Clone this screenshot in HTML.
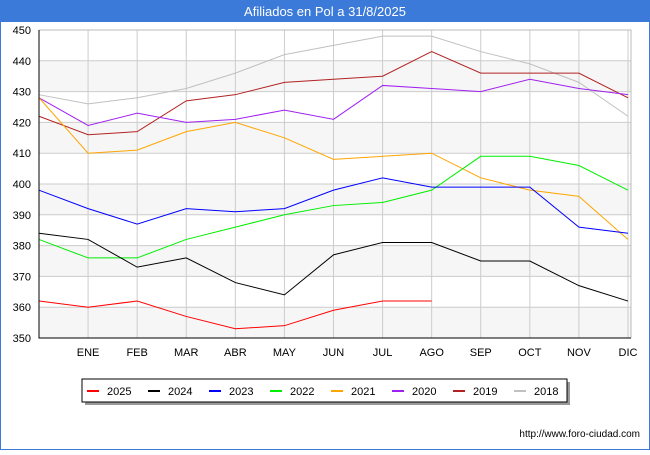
<!DOCTYPE html>
<html><head><meta charset="utf-8"><style>
body{margin:0;width:650px;height:450px;background:#fff;font-family:"Liberation Sans",sans-serif;overflow:hidden}
</style></head><body>
<svg width="650" height="450" xmlns="http://www.w3.org/2000/svg">
<rect x="0.5" y="0.5" width="649" height="449" fill="#fff" stroke="#3b7ad9"/>
<rect x="0" y="0" width="650" height="22" fill="#3b7ad9"/>
<text x="325" y="16" text-anchor="middle" fill="#fff" font-size="13">Afiliados en Pol a 31/8/2025</text>
<g id="bands"></g><g id="grid"></g><g id="series"></g><g id="axes"></g>
<rect x="85" y="382" width="485" height="23" fill="#999"/>
<rect x="82" y="379" width="485" height="23" fill="#fff" stroke="#000" stroke-width="1"/>
<g id="legend"></g>
<text x="640" y="437" text-anchor="end" font-size="10" fill="#000">http://www.foro-ciudad.com</text>
</svg>
<script>
const months=["","ENE","FEB","MAR","ABR","MAY","JUN","JUL","AGO","SEP","OCT","NOV","DIC"];
const yTicks=[350,360,370,380,390,400,410,420,430,440,450];
const seriesNames=["2025","2024","2023","2022","2021","2020","2019","2018"];
const seriesColors=["#ff0000","#000000","#0000ff","#00ee00","#ffa500","#a020f0","#b22222","#c0c0c0"];
const s2025=[362,360,362,357,353,354,359,362,362];
const s2024=[384,382,373,376,368,364,377,381,381,375,375,367,362];
const s2023=[398,392,387,392,391,392,398,402,399,399,399,386,384];
const s2022=[382,376,376,382,386,390,393,394,398,409,409,406,398];
const s2021=[428,410,411,417,420,415,408,409,410,402,398,396,382];
const s2020=[428,419,423,420,421,424,421,432,431,430,434,431,429];
const s2019=[422,416,417,427,429,433,434,435,443,436,436,436,428];
const s2018=[429,426,428,431,436,442,445,448,448,443,439,433,422];
const allSeries=[s2025,s2024,s2023,s2022,s2021,s2020,s2019,s2018];
const X0=39,X1=628,Y0=338,Y1=30,PL=39,PR=631;
const xs=i=>X0+i*(X1-X0)/12;
const ys=v=>Y0-(v-350)*(Y0-Y1)/100;
const NS="http://www.w3.org/2000/svg";
function mk(t,a,p){const e=document.createElementNS(NS,t);for(const k in a)e.setAttribute(k,a[k]);document.getElementById(p).appendChild(e);return e;}
for(let i=0;i<yTicks.length-1;i++){if(i%2===0){const b=mk('rect',{x:PL,y:ys(yTicks[i+1]),width:PR-PL,height:ys(yTicks[i])-ys(yTicks[i+1]),fill:'#f6f6f6'},'bands');

}}
yTicks.forEach(v=>{const g=mk('line',{x1:PL,x2:PR,y1:ys(v),y2:ys(v),stroke:'#ccc'},'grid');


const t=mk('text',{x:PL-8,y:ys(v)+4,'text-anchor':'end','font-size':'11',fill:'#000'},'axes');t.textContent=v;

});
months.forEach((m,i)=>{if(!m)return;const g=mk('line',{x1:xs(i),x2:xs(i),y1:Y1,y2:Y0,stroke:'#ccc'},'grid');


const t=mk('text',{x:xs(i),y:356,'text-anchor':'middle','font-size':'11',fill:'#000'},'axes');t.textContent=m;

});
const fr=mk('path',{d:`M${PL} ${Y1}H${PR}V${Y0}`,fill:'none',stroke:'#bbb'},'axes');


const ax=mk('path',{d:`M${PL} ${Y1}V${Y0}H${PR}`,fill:'none',stroke:'#000'},'axes');


for(let k=allSeries.length-1;k>=0;k--){const d=allSeries[k].map((v,i)=>(i?'L':'M')+xs(i)+' '+ys(v)).join('');
const p=mk('path',{d:d,fill:'none',stroke:seriesColors[k],'stroke-width':1},'series');

}
seriesNames.forEach((n,k)=>{const x=87+k*61;
const l=mk('line',{x1:x,x2:x+12,y1:391,y2:391,stroke:seriesColors[k],'stroke-width':2},'legend');


const t=mk('text',{x:x+20,y:395,'font-size':'11',fill:'#000'},'legend');t.textContent=n;

});
</script>
</body></html>
